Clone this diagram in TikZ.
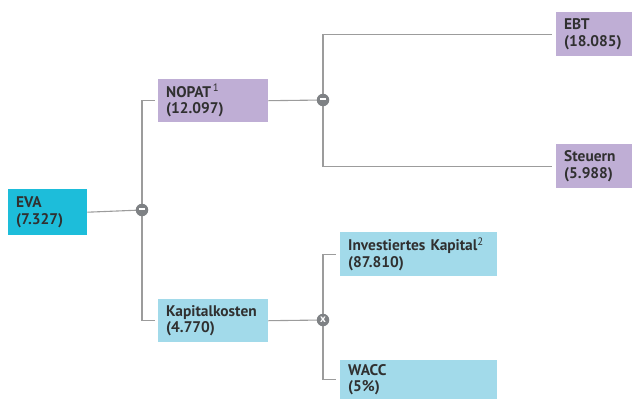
\documentclass[tikz,border=0pt]{standalone}
\usepackage{fontspec}
\setsansfont{PT Sans}
\usetikzlibrary{positioning,calc,backgrounds}
\definecolor{evablau}{HTML}{1DBDDA}
\definecolor{hellblau}{HTML}{A2DAEA}
\definecolor{lila}{HTML}{BFAED5}
\definecolor{linie}{HTML}{9C9C9C}
\definecolor{knoten}{HTML}{7E8184}
\definecolor{schrift}{HTML}{303030}

\begin{document}
\begin{tikzpicture}[x=1pt,y=-1pt,font=\sffamily\bfseries\fontsize{15.4}{16.5}\selectfont,
 b/.style={anchor=north west,inner xsep=8pt,inner ysep=0pt,text=schrift,align=left},
 ln/.style={draw=linie,line width=1.1pt},
 op/.style={circle,fill=knoten,inner sep=0pt,minimum size=12.5pt,text=white,font=\sffamily\bfseries\fontsize{11}{11}\selectfont}]
\useasboundingbox (0,0) rectangle (632,399);
% Ebene 1
\node[b,fill=evablau,minimum width=79pt,minimum height=46pt,text width=63pt] (eva) at (8,189) {EVA\\(7.327)};
% Ebene 2
\node[b,fill=lila,minimum width=110pt,minimum height=43pt,text width=94pt] (nopat) at (158,79) {NOPAT\textsuperscript{\,\mdseries 1}\\(12.097)};
\node[b,fill=hellblau,minimum width=110pt,minimum height=43pt,text width=94pt] (kk) at (158,299) {Kapitalkosten\\(4.770)};
% Ebene 3
\node[b,fill=lila,minimum width=76pt,minimum height=44pt,text width=60pt] (ebt) at (556,12) {EBT\\(18.085)};
\node[b,fill=lila,minimum width=76pt,minimum height=44pt,text width=60pt] (st) at (556,144) {Steuern\\(5.988)};
\node[b,fill=hellblau,minimum width=157pt,minimum height=44pt,text width=141pt] (ik) at (340,232) {Investiertes Kapital\textsuperscript{\mdseries 2}\\(87.810)};
\node[b,fill=hellblau,minimum width=157pt,minimum height=39pt,text width=141pt] (wacc) at (340,360) {WACC\\(5\%)};
% Operatoren
\node[op] (m1) at (142,210) {\rule[2.6pt]{6.5pt}{2.2pt}};
\node[op] (m2) at (323,100) {\rule[2.6pt]{6.5pt}{2.2pt}};
\node[op] (x1) at (323,320) {\raisebox{0.8pt}{x}};
% Verbindungen
\begin{scope}[on background layer]
\draw[ln] (eva.east) -- (m1.center);
\draw[ln,shorten >=3pt] (m1.center) |- (nopat.west);
\draw[ln,shorten >=3pt] (m1.center) |- (kk.west);
\draw[ln] (nopat.east) -- (m2.center);
\draw[ln,shorten >=4pt] (m2.center) |- (ebt.west);
\draw[ln,shorten >=4pt] (m2.center) |- (st.west);
\draw[ln] (kk.east) -- (x1.center);
\draw[ln,shorten >=4pt] (x1.center) |- (ik.west);
\draw[ln,shorten >=4pt] (x1.center) |- (wacc.west);
\end{scope}
\end{tikzpicture}
\end{document}
